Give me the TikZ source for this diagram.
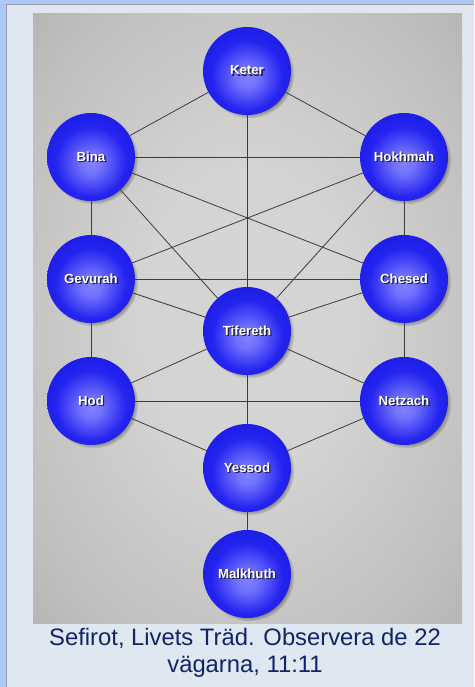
\documentclass[tikz,border=0pt]{standalone}
\usepackage{fontspec}
\setmainfont{Liberation Sans}
\usetikzlibrary{shadows}
\definecolor{framerim}{RGB}{172,200,248}
\definecolor{framefill}{RGB}{223,232,240}
\definecolor{frameline}{RGB}{150,155,165}
\definecolor{bglight}{RGB}{212,212,210}
\definecolor{bgmid}{RGB}{192,191,190}
\definecolor{bgdark}{RGB}{160,156,156}
\definecolor{orbhi}{RGB}{128,128,255}
\definecolor{orbmid}{RGB}{36,36,240}
\definecolor{orbedge}{RGB}{16,16,210}
\definecolor{orbrim}{RGB}{8,8,160}
\definecolor{pathgray}{RGB}{60,60,60}
\definecolor{captionblue}{RGB}{16,36,104}

\pgfdeclareradialshading{backdrop}{\pgfpoint{0bp}{0bp}}{color(0bp)=(bglight); color(12bp)=(bglight); color(30bp)=(bgmid); color(50bp)=(bgdark); color(75bp)=(bgdark)}
\pgfdeclareradialshading{orb}{\pgfpoint{0bp}{-4bp}}{color(0bp)=(orbhi); color(6bp)=(orbhi!85!orbmid); color(20bp)=(orbmid); color(42bp)=(orbedge); color(50bp)=(orbrim); color(58bp)=(orbrim)}

\newcommand{\orbtext}[1]{\rlap{\hspace{1.3pt}\raisebox{-1.3pt}{\textcolor[RGB]{30,30,70}{#1}}}\textcolor{white}{#1}}

\begin{document}
\begin{tikzpicture}[x=1pt, y=-1pt,
    sefira/.style={circle, minimum size=88pt, inner sep=0pt, shading=orb,
        circular drop shadow={shadow scale=1.02, shadow xshift=2.5pt, shadow yshift=-2.5pt, opacity=0.45, fill=black},
        font=\bfseries\fontsize{13.2}{15}\selectfont},
    conduit/.style={draw=pathgray, line width=0.8pt},
    caption/.style={anchor=base, text=captionblue, inner sep=0pt, font=\fontsize{23.8}{27}\selectfont}]

    \useasboundingbox (0,0) rectangle (474,687);

        % Frame and backdrop
        \fill[framerim] (0,0) rectangle (474,687);
        \fill[framefill] (6.5,4.5) rectangle (474,687);
        \draw[frameline, line width=1pt] (6.5,687) -- (6.5,4.5) -- (474,4.5);
        \shade[shading=backdrop] (33,14) rectangle (462,623);

        % Nodes
        \node (keter) [sefira] at (247,71) {\orbtext{Keter}};
        \node (bina) [sefira] at (91,157) {\orbtext{Bina}};
        \node (hokhmah) [sefira] at (404,157) {\orbtext{Hokhmah}};
        \node (gevurah) [sefira] at (91,279) {\orbtext{Gevurah}};
        \node (chesed) [sefira] at (404,279) {\orbtext{Chesed}};
        \node (tifereth) [sefira] at (247,331) {\orbtext{Tifereth}};
        \node (hod) [sefira] at (91,401) {\orbtext{Hod}};
        \node (netzach) [sefira] at (404,401) {\orbtext{Netzach}};
        \node (yessod) [sefira] at (247,468) {\orbtext{Yessod}};
        \node (malkhuth) [sefira] at (247,574) {\orbtext{Malkhuth}};

        % Paths
        \foreach \i/\j in {keter/bina, keter/hokhmah, keter/tifereth, bina/hokhmah, bina/gevurah, hokhmah/chesed,
            bina/chesed, hokhmah/gevurah, bina/tifereth, hokhmah/tifereth, gevurah/chesed, gevurah/tifereth,
            chesed/tifereth, gevurah/hod, chesed/netzach, tifereth/hod, tifereth/netzach, tifereth/yessod,
            hod/netzach, hod/yessod, netzach/yessod, yessod/malkhuth} {
            \draw[conduit] (\i) -- (\j);
        }

        % Caption
        \node (caption) [caption] at (245,645) {Sefirot, Livets Träd. Observera de 22};
        \node (captiontail) [caption] at (245,672) {vägarna, 11:11};

    \end{tikzpicture}
\end{document}
